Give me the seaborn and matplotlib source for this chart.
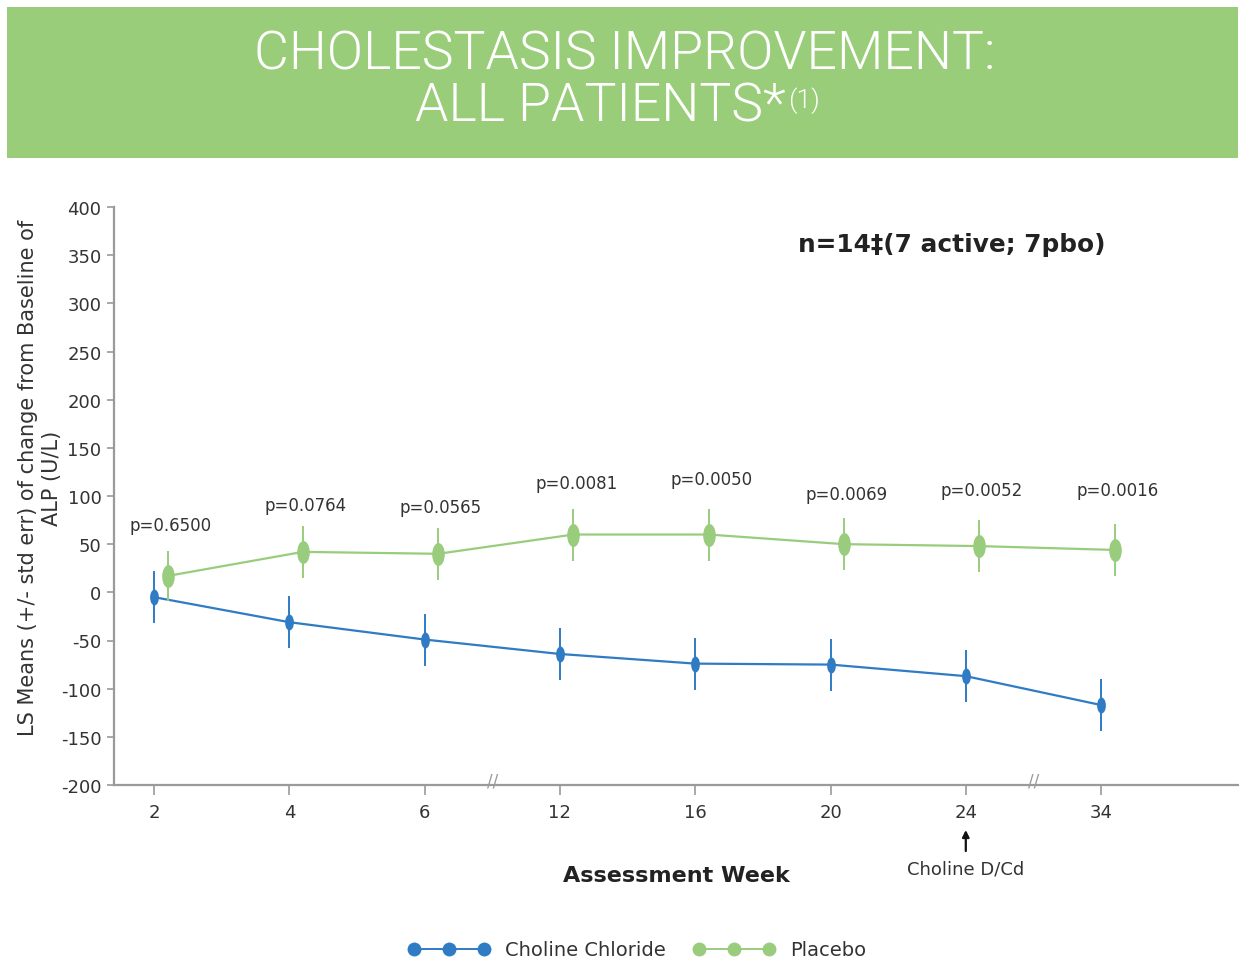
import numpy as np
import pandas as pd
import matplotlib
matplotlib.use("Agg")
import matplotlib.pyplot as plt
import seaborn as sns
from matplotlib.path import Path
from matplotlib.lines import Line2D
from matplotlib.patches import Rectangle
import matplotlib.transforms as mtransforms

# ---------------- data ----------------
weeks = ["2", "4", "6", "12", "16", "20", "24", "34"]
choline_mean = [-5, -31, -49, -64, -74, -75, -87, -117]
choline_err = [27, 27, 27, 27, 27, 27, 27, 27]
placebo_mean = [17, 42, 40, 60, 60, 50, 48, 44]
placebo_err = [26, 27, 27, 27, 27, 27, 27, 27]
p_values = ["p=0.6500", "p=0.0764", "p=0.0565", "p=0.0081",
            "p=0.0050", "p=0.0069", "p=0.0052", "p=0.0016"]
p_label_y = [70, 91, 89, 114, 118, 102, 106, 106]
yticks = [400, 350, 300, 250, 200, 150, 100, 50, 0, -50, -100, -150, -200]

BLUE = "#2F7BC4"
GREEN = "#99CC7D"
BANNER = "#99CD7A"
GRAY = "#9A9A9A"
TXT = "#333333"

sns.set_style("white")
plt.rcParams["font.family"] = ["DejaVu Sans"]
plt.rcParams["axes.unicode_minus"] = False

pos = np.arange(len(weeks))
green_shift = 0.1
df = pd.DataFrame({
    "pos": np.concatenate([pos, pos + green_shift]),
    "value": choline_mean + placebo_mean,
    "group": ["Choline Chloride"] * len(weeks) + ["Placebo"] * len(weeks),
})

uc = Path.unit_circle()
v = uc.vertices.copy()
v[:, 0] *= 0.55
ellipse = Path(v, uc.codes)

fig = plt.figure(figsize=(12.39, 9.62), dpi=100)
ax = fig.add_axes([114 / 1239, 1 - 786 / 962, (1238 - 114) / 1239, (786 - 208) / 962])

# banner
TITLE_FONT = ["Roboto", "DejaVu Sans"]
fig.patches.append(Rectangle((7 / 1239, 1 - 159 / 962), (1238 - 7) / 1239, 151 / 962,
                             transform=fig.transFigure, facecolor=BANNER, edgecolor="none", zorder=0))
fig.text(625 / 1239, 1 - 55 / 962, "CHOLESTASIS IMPROVEMENT:", ha="center", va="center",
         color="white", fontsize=38.5, family=TITLE_FONT, fontweight=300)
fig.text(786 / 1239, 1 - 107 / 962, "ALL PATIENTS*", ha="right", va="center",
         color="white", fontsize=38.5, family=TITLE_FONT, fontweight=300)
fig.text(788 / 1239, 1 - 101 / 962, "(1)", ha="left", va="center",
         color="white", fontsize=19, family=TITLE_FONT, fontweight=300)

# error bars and series
ch = df[df.group == "Choline Chloride"]
pl = df[df.group == "Placebo"]
ax.vlines(ch.pos, np.array(choline_mean) - np.array(choline_err),
          np.array(choline_mean) + np.array(choline_err), color=BLUE, lw=1.4, zorder=2)
sns.lineplot(data=ch, x="pos", y="value", color=BLUE, marker=ellipse, markersize=11.5,
             markeredgewidth=0, linewidth=1.6, errorbar=None, ax=ax, zorder=3, legend=False)
ax.vlines(pl.pos, np.array(placebo_mean) - np.array(placebo_err),
          np.array(placebo_mean) + np.array(placebo_err), color=GREEN, lw=1.4, zorder=4)
sns.lineplot(data=pl, x="pos", y="value", color=GREEN, marker=ellipse, markersize=16.5,
             markeredgewidth=0, linewidth=1.6, errorbar=None, ax=ax, zorder=5, legend=False)

for i, (lab, yy) in enumerate(zip(p_values, p_label_y)):
    ax.text(pos[i] + green_shift + 0.02, yy, lab, ha="center", va="center",
            fontsize=12, color=TXT)

ax.text(4.76, 362, "n=14\u2021(7 active; 7pbo)", ha="left", va="center",
        fontsize=17.8, fontweight="bold", color="#222222")

# axes
ax.set_xlim(-0.296, 8.012)
ax.set_ylim(-200, 400)
ax.set_yticks(yticks)
ax.set_xticks(pos)
ax.set_xticklabels(weeks)
for s in ["top", "right"]:
    ax.spines[s].set_visible(False)
for s in ["left", "bottom"]:
    ax.spines[s].set_color(GRAY)
    ax.spines[s].set_linewidth(1.6)
ax.tick_params(axis="y", direction="out", length=5, width=1.2, color=GRAY,
               labelsize=13, labelcolor=TXT, pad=4, left=True)
ax.tick_params(axis="x", direction="out", length=7, width=1.2, color=GRAY,
               labelsize=13, labelcolor=TXT, pad=6, bottom=True)

ax.set_xlabel("Assessment Week", fontsize=16, fontweight="bold", color="#222222")
ax.xaxis.set_label_coords(0.5, (786 - 876) / 578)
ax.xaxis.label.set_va("center")
ax.set_ylabel("LS Means (+/- std err) of change from Baseline of\nALP (U/L)",
              fontsize=15, color=TXT, linespacing=1.3)
ax.yaxis.set_label_coords((40 - 114) / 1124, (786 - 478) / 578)
ax.yaxis.label.set_va("center")

# axis break marks
trans = mtransforms.blended_transform_factory(ax.transData, ax.transAxes)
for bx in [2.5, 6.5]:
    ax.text(bx, 0.008, "//", transform=trans, ha="center", va="center",
            fontsize=12, color=GRAY, clip_on=False)

# discontinuation arrow
ax.annotate("", xy=(6, (786 - 831) / 578), xytext=(6, (786 - 852) / 578),
            xycoords=("data", "axes fraction"), textcoords=("data", "axes fraction"),
            arrowprops=dict(arrowstyle="-|>", color="#111111", lw=1.6, mutation_scale=10,
                            shrinkA=0, shrinkB=0))
ax.text(6, (786 - 870) / 578, "Choline D/Cd", transform=trans, ha="center", va="center",
        fontsize=13, color=TXT)

# legend
handles = [
    Line2D([0], [0], color=BLUE, lw=1.4, marker="o", markersize=10, markeredgewidth=0),
    Line2D([0], [0], color=GREEN, lw=1.4, marker="o", markersize=10, markeredgewidth=0),
]
fig.legend(handles, ["Choline Chloride", "Placebo"], loc="center",
           bbox_to_anchor=(637 / 1239, 1 - 951 / 962), ncol=2, frameon=False,
           numpoints=3, handlelength=4.2, handletextpad=0.8, columnspacing=1.4,
           fontsize=14, labelcolor=TXT)

fig.savefig("out.png", dpi=100)
